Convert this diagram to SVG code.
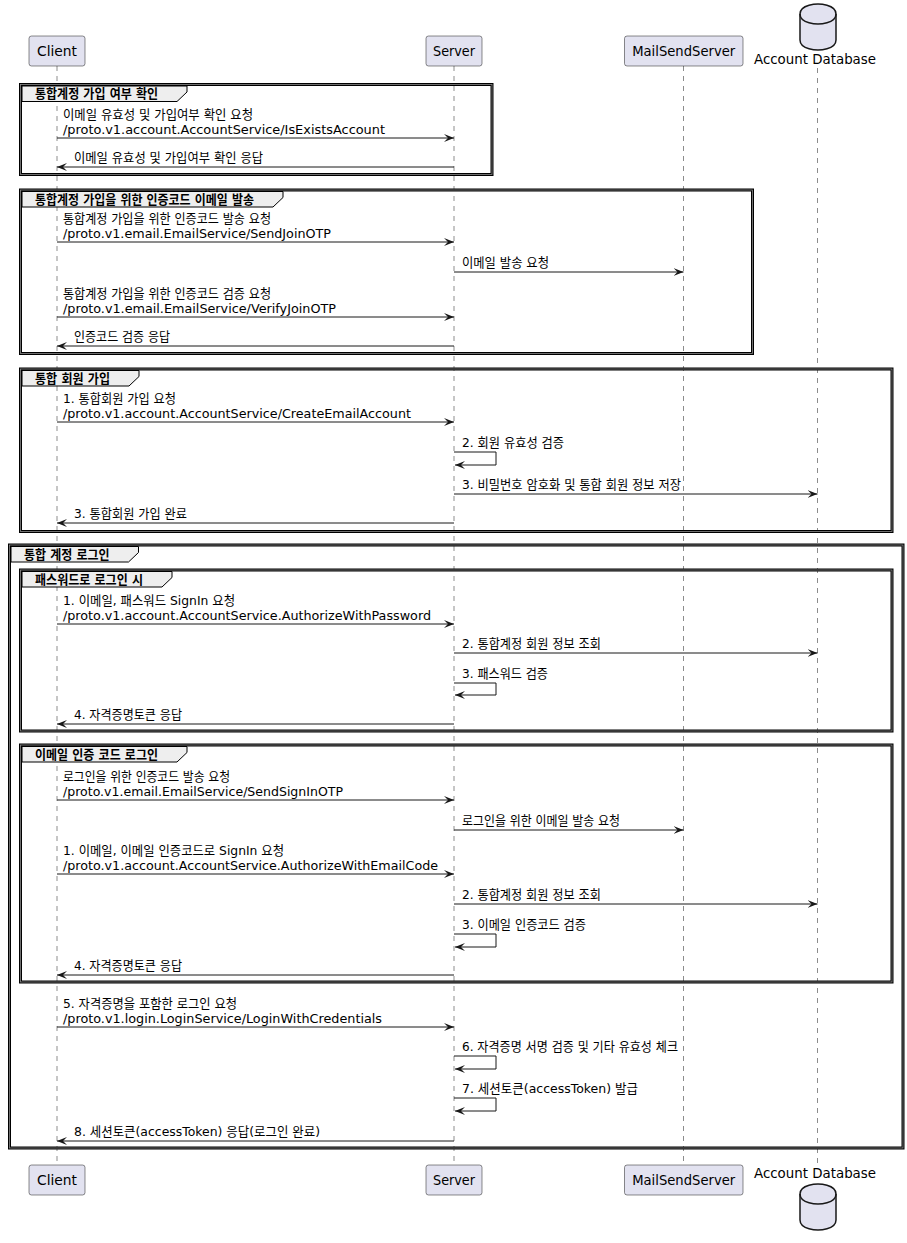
<svg xmlns="http://www.w3.org/2000/svg" width="907" height="1243" viewBox="0 0 907 1243">
<style>
text{font-family:"DejaVu Sans","Noto Sans CJK KR",sans-serif;fill:#000}
.m{font-size:13px}
.p{font-size:14px}
.t{font-size:13px;font-weight:bold}
.box{fill:#E2E2F0;stroke:#181818;stroke-width:0.5}
.db{fill:#E2E2F0;stroke:#181818;stroke-width:1.5}
.dbl{fill:none;stroke:#181818;stroke-width:1.5}
.life{stroke:#181818;stroke-width:0.5;stroke-dasharray:5,5;fill:none}
.fr{fill:none;stroke:#000;stroke-width:3}
.fi{fill:none;stroke:#8A8A8A;stroke-width:0.8}
.tab{fill:#EEEEEE;stroke:#000;stroke-width:1}
.msg{stroke:#181818;stroke-width:1;fill:none;marker-end:url(#ah)}
</style>
<defs>
<marker id="ah" markerUnits="userSpaceOnUse" markerWidth="10" markerHeight="8" refX="10" refY="4" orient="auto" viewBox="0 0 10 8"><path d="M0,0 L10,4 L0,8 L4,4 Z" fill="#181818"/></marker>
</defs>
<rect x="0" y="0" width="907" height="1243" fill="#FFFFFF"/>

<g id="lifelines">
<line class="life" x1="57" y1="66" x2="57" y2="1165"/>
<line class="life" x1="454" y1="66" x2="454" y2="1165"/>
<line class="life" x1="683.5" y1="66" x2="683.5" y2="1165"/>
<line class="life" x1="817.5" y1="68" x2="817.5" y2="1165"/>
</g>

<g id="participant-client">
<rect class="box" x="29" y="36" width="56" height="30" rx="2.5"/>
<text class="p" x="57" y="56" text-anchor="middle" textLength="40" lengthAdjust="spacingAndGlyphs">Client</text>
<rect class="box" x="29" y="1165" width="56" height="30" rx="2.5"/>
<text class="p" x="57" y="1185" text-anchor="middle" textLength="40" lengthAdjust="spacingAndGlyphs">Client</text>
</g>
<g id="participant-server">
<rect class="box" x="426" y="36" width="56" height="30" rx="2.5"/>
<text class="p" x="454" y="56" text-anchor="middle" textLength="42" lengthAdjust="spacingAndGlyphs">Server</text>
<rect class="box" x="426" y="1165" width="56" height="30" rx="2.5"/>
<text class="p" x="454" y="1185" text-anchor="middle" textLength="42" lengthAdjust="spacingAndGlyphs">Server</text>
</g>
<g id="participant-mailsendserver">
<rect class="box" x="624.5" y="36" width="118.5" height="30" rx="2.5"/>
<text class="p" x="683.7" y="56" text-anchor="middle" textLength="103" lengthAdjust="spacingAndGlyphs">MailSendServer</text>
<rect class="box" x="624.5" y="1165" width="118.5" height="30" rx="2.5"/>
<text class="p" x="683.7" y="1185" text-anchor="middle" textLength="103" lengthAdjust="spacingAndGlyphs">MailSendServer</text>
</g>
<g id="participant-accountdb">
<path class="db" d="M800,14 C800,4 818,4 818,4 C818,4 836,4 836,14 L836,40 C836,50 818,50 818,50 C818,50 800,50 800,40 Z"/>
<path class="dbl" d="M800,14 C800,24 818,24 818,24 C818,24 836,24 836,14"/>
<text class="p" x="815" y="64" text-anchor="middle" textLength="122" lengthAdjust="spacingAndGlyphs">Account Database</text>
<text class="p" x="815" y="1178" text-anchor="middle" textLength="122" lengthAdjust="spacingAndGlyphs">Account Database</text>
<path class="db" d="M800,1194 C800,1184 818,1184 818,1184 C818,1184 836,1184 836,1194 L836,1220 C836,1230 818,1230 818,1230 C818,1230 800,1230 800,1220 Z"/>
<path class="dbl" d="M800,1194 C800,1204 818,1204 818,1204 C818,1204 836,1204 836,1194"/>
</g>

<g id="group-check-account">
<rect class="fr" x="20.5" y="84.5" width="471.5" height="90"/>
<rect class="fi" x="20.5" y="84.5" width="471.5" height="90"/>
<path class="tab" d="M22,86 H187 V92 L177,101.5 H22 Z"/>
<text class="t" x="35" y="98" textLength="123" lengthAdjust="spacingAndGlyphs">통합계정 가입 여부 확인</text>
</g>
<g id="group-join-otp">
<rect class="fr" x="20.5" y="190" width="732" height="163.5"/>
<rect class="fi" x="20.5" y="190" width="732" height="163.5"/>
<path class="tab" d="M22,191.5 H283 V197.5 L273,207 H22 Z"/>
<text class="t" x="35" y="203.5" textLength="219" lengthAdjust="spacingAndGlyphs">통합계정 가입을 위한 인증코드 이메일 발송</text>
</g>
<g id="group-join">
<rect class="fr" x="20.5" y="369" width="871.5" height="162.5"/>
<rect class="fi" x="20.5" y="369" width="871.5" height="162.5"/>
<path class="tab" d="M22,370.5 H139 V376.5 L129,386 H22 Z"/>
<text class="t" x="35" y="382.5" textLength="75" lengthAdjust="spacingAndGlyphs">통합 회원 가입</text>
</g>
<g id="group-login">
<rect class="fr" x="9.5" y="545" width="893.5" height="603"/>
<rect class="fi" x="9.5" y="545" width="893.5" height="603"/>
<path class="tab" d="M11,546.5 H138.5 V552.5 L128.5,562 H11 Z"/>
<text class="t" x="24" y="558.5" textLength="85.5" lengthAdjust="spacingAndGlyphs">통합 계정 로그인</text>
</g>
<g id="group-login-password">
<rect class="fr" x="20.5" y="570" width="871.5" height="161"/>
<rect class="fi" x="20.5" y="570" width="871.5" height="161"/>
<path class="tab" d="M22,571.5 H172 V577.5 L162,587 H22 Z"/>
<text class="t" x="35" y="583.5" textLength="108" lengthAdjust="spacingAndGlyphs">패스워드로 로그인 시</text>
</g>
<g id="group-login-email">
<rect class="fr" x="20.5" y="745" width="871.5" height="237"/>
<rect class="fi" x="20.5" y="745" width="871.5" height="237"/>
<path class="tab" d="M22,746.5 H187 V752.5 L177,762 H22 Z"/>
<text class="t" x="35" y="758.5" textLength="123" lengthAdjust="spacingAndGlyphs">이메일 인증 코드 로그인</text>
</g>

<g id="connectors">
<path class="msg" d="M57,138 H454"/>
<path class="msg" d="M454,167 H57"/>
<path class="msg" d="M57,242 H454"/>
<path class="msg" d="M454,272 H683.5"/>
<path class="msg" d="M57,317 H454"/>
<path class="msg" d="M454,346 H57"/>
<path class="msg" d="M57,422 H454"/>
<path class="msg" d="M454,452 H496 V465 H455"/>
<path class="msg" d="M454,494 H817.5"/>
<path class="msg" d="M454,523 H57"/>
<path class="msg" d="M57,624 H454"/>
<path class="msg" d="M454,653 H817.5"/>
<path class="msg" d="M454,683 H496 V695 H455"/>
<path class="msg" d="M454,724 H57"/>
<path class="msg" d="M57,800 H454"/>
<path class="msg" d="M454,830 H683.5"/>
<path class="msg" d="M57,874 H454"/>
<path class="msg" d="M454,904 H817.5"/>
<path class="msg" d="M454,934 H496 V947 H455"/>
<path class="msg" d="M454,975 H57"/>
<path class="msg" d="M57,1027 H454"/>
<path class="msg" d="M454,1056 H496 V1069 H455"/>
<path class="msg" d="M454,1098 H496 V1111 H455"/>
<path class="msg" d="M454,1141 H57"/>
</g>

<g id="labels">
<text class="m" x="63" y="119" textLength="190" lengthAdjust="spacingAndGlyphs">이메일 유효성 및 가입여부 확인 요청</text>
<text class="m" x="63" y="133.5" textLength="322" lengthAdjust="spacingAndGlyphs">/proto.v1.account.AccountService/IsExistsAccount</text>
<text class="m" x="74" y="162" textLength="189" lengthAdjust="spacingAndGlyphs">이메일 유효성 및 가입여부 확인 응답</text>

<text class="m" x="63" y="223" textLength="208" lengthAdjust="spacingAndGlyphs">통합계정 가입을 위한 인증코드 발송 요청</text>
<text class="m" x="63" y="237.5" textLength="268" lengthAdjust="spacingAndGlyphs">/proto.v1.email.EmailService/SendJoinOTP</text>
<text class="m" x="462" y="267" textLength="87" lengthAdjust="spacingAndGlyphs">이메일 발송 요청</text>
<text class="m" x="63" y="298" textLength="208" lengthAdjust="spacingAndGlyphs">통합계정 가입을 위한 인증코드 검증 요청</text>
<text class="m" x="63" y="312.5" textLength="273" lengthAdjust="spacingAndGlyphs">/proto.v1.email.EmailService/VerifyJoinOTP</text>
<text class="m" x="74" y="341" textLength="96" lengthAdjust="spacingAndGlyphs">인증코드 검증 응답</text>

<text class="m" x="63" y="403" textLength="113" lengthAdjust="spacingAndGlyphs">1. 통합회원 가입 요청</text>
<text class="m" x="63" y="417.5" textLength="348" lengthAdjust="spacingAndGlyphs">/proto.v1.account.AccountService/CreateEmailAccount</text>
<text class="m" x="462" y="447" textLength="102" lengthAdjust="spacingAndGlyphs">2. 회원 유효성 검증</text>
<text class="m" x="462" y="489" textLength="219" lengthAdjust="spacingAndGlyphs">3. 비밀번호 암호화 및 통합 회원 정보 저장</text>
<text class="m" x="74" y="518" textLength="113" lengthAdjust="spacingAndGlyphs">3. 통합회원 가입 완료</text>

<text class="m" x="63" y="605" textLength="172" lengthAdjust="spacingAndGlyphs">1. 이메일, 패스워드 SignIn 요청</text>
<text class="m" x="63" y="619.5" textLength="368" lengthAdjust="spacingAndGlyphs">/proto.v1.account.AccountService.AuthorizeWithPassword</text>
<text class="m" x="462" y="648" textLength="139" lengthAdjust="spacingAndGlyphs">2. 통합계정 회원 정보 조회</text>
<text class="m" x="462" y="678" textLength="86" lengthAdjust="spacingAndGlyphs">3. 패스워드 검증</text>
<text class="m" x="74" y="719" textLength="108" lengthAdjust="spacingAndGlyphs">4. 자격증명토큰 응답</text>

<text class="m" x="63" y="781" textLength="167" lengthAdjust="spacingAndGlyphs">로그인을 위한 인증코드 발송 요청</text>
<text class="m" x="63" y="795.5" textLength="280" lengthAdjust="spacingAndGlyphs">/proto.v1.email.EmailService/SendSignInOTP</text>
<text class="m" x="462" y="825" textLength="158" lengthAdjust="spacingAndGlyphs">로그인을 위한 이메일 발송 요청</text>
<text class="m" x="63" y="855" textLength="221" lengthAdjust="spacingAndGlyphs">1. 이메일, 이메일 인증코드로 SignIn 요청</text>
<text class="m" x="63" y="869.5" textLength="375" lengthAdjust="spacingAndGlyphs">/proto.v1.account.AccountService.AuthorizeWithEmailCode</text>
<text class="m" x="462" y="899" textLength="139" lengthAdjust="spacingAndGlyphs">2. 통합계정 회원 정보 조회</text>
<text class="m" x="462" y="929" textLength="124" lengthAdjust="spacingAndGlyphs">3. 이메일 인증코드 검증</text>
<text class="m" x="74" y="970" textLength="108" lengthAdjust="spacingAndGlyphs">4. 자격증명토큰 응답</text>

<text class="m" x="63" y="1008" textLength="174" lengthAdjust="spacingAndGlyphs">5. 자격증명을 포함한 로그인 요청</text>
<text class="m" x="63" y="1022.5" textLength="319" lengthAdjust="spacingAndGlyphs">/proto.v1.login.LoginService/LoginWithCredentials</text>
<text class="m" x="462" y="1051" textLength="216" lengthAdjust="spacingAndGlyphs">6. 자격증명 서명 검증 및 기타 유효성 체크</text>
<text class="m" x="462" y="1093" textLength="176" lengthAdjust="spacingAndGlyphs">7. 세션토큰(accessToken) 발급</text>
<text class="m" x="74" y="1136" textLength="246" lengthAdjust="spacingAndGlyphs">8. 세션토큰(accessToken) 응답(로그인 완료)</text>
</g>
</svg>
